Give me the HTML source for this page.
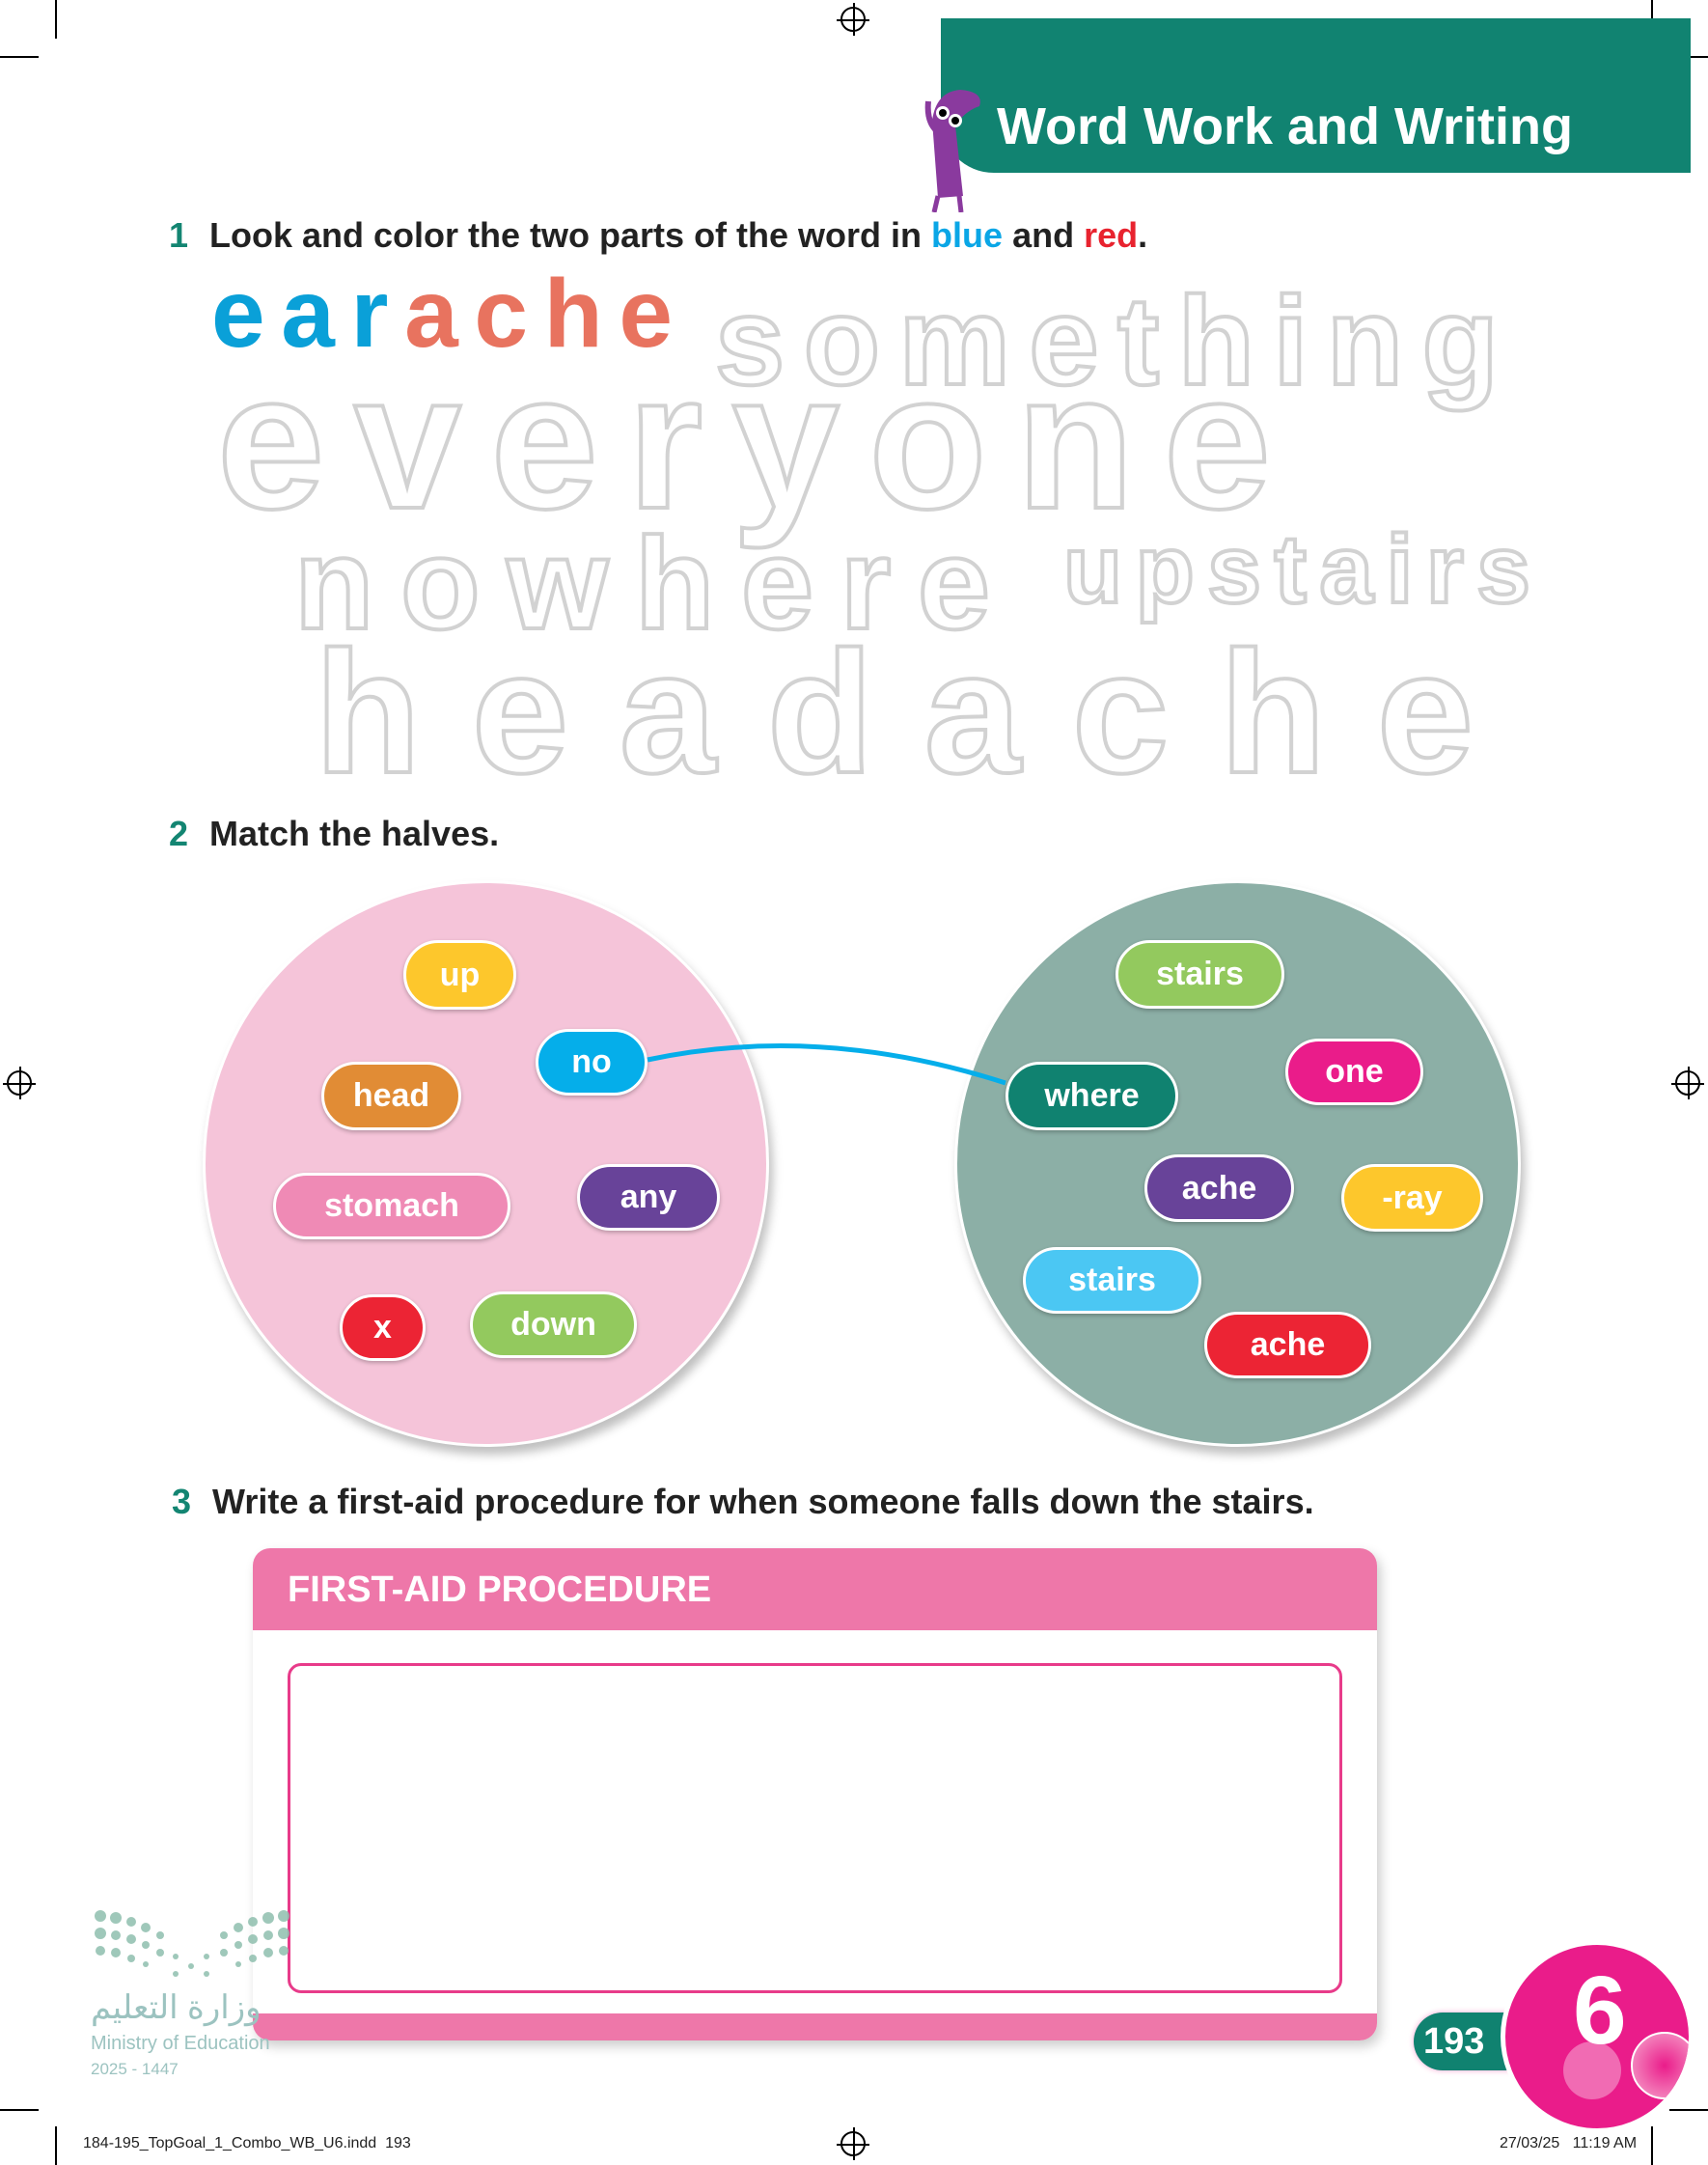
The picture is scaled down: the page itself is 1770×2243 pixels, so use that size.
<!DOCTYPE html>
<html><head><meta charset="utf-8"><style>
*{margin:0;padding:0;box-sizing:border-box}
body{width:1770px;height:2243px;position:relative;background:#fff;font-family:"Liberation Sans",sans-serif;overflow:hidden}
.a{position:absolute}
.w{position:absolute;display:flex;justify-content:space-between;line-height:1;font-weight:bold;color:#fff;-webkit-text-stroke:4px #d2d2d2;white-space:nowrap}
.q{position:absolute;font-size:36px;font-weight:bold;color:#222;white-space:nowrap}
.q b{color:#138572;margin-right:22px}
.p{position:absolute;border:3px solid #fff;border-radius:40px;color:#fff;font-weight:bold;font-size:34px;display:flex;align-items:center;justify-content:center;box-shadow:0 2px 4px rgba(0,0,0,.25)}
.circ{position:absolute;border-radius:50%;border:3px solid #fff;box-shadow:4px 8px 10px rgba(0,0,0,.25)}
.reg{position:absolute;width:26px;height:26px;border:2px solid #000;border-radius:50%}
.reg:before{content:"";position:absolute;left:11px;top:-6px;width:2px;height:34px;background:#000}
.reg:after{content:"";position:absolute;top:11px;left:-6px;height:2px;width:34px;background:#000}
</style></head><body>
<!-- crop marks -->
<div class="a" style="left:57px;top:0;width:2px;height:40px;background:#000"></div>
<div class="a" style="left:0;top:58px;width:40px;height:2px;background:#000"></div>
<div class="a" style="left:1711px;top:0;width:2px;height:40px;background:#000"></div>
<div class="a" style="left:1730px;top:58px;width:40px;height:2px;background:#000"></div>
<div class="a" style="left:57px;top:2203px;width:2px;height:40px;background:#000"></div>
<div class="a" style="left:0;top:2185px;width:40px;height:2px;background:#000"></div>
<div class="a" style="left:1711px;top:2203px;width:2px;height:40px;background:#000"></div>
<div class="a" style="left:1730px;top:2185px;width:40px;height:2px;background:#000"></div>
<div class="reg" style="left:871px;top:7px"></div>
<div class="reg" style="left:7px;top:1109px"></div>
<div class="reg" style="left:1736px;top:1109px"></div>
<div class="reg" style="left:871px;top:2208px"></div>

<!-- header -->
<div class="a" style="left:975px;top:19px;width:777px;height:160px;background:#118371;border-bottom-left-radius:55px"></div>
<div class="a" style="left:1033px;top:100px;font-size:54px;font-weight:bold;color:#fff;white-space:nowrap">Word Work and Writing</div>
<svg class="a" style="left:950px;top:85px" width="80" height="135" viewBox="0 0 80 135">
<path d="M22 120 L16 40 Q20 10 45 8 Q70 10 65 25 Q50 30 40 45 L48 118 Z" fill="#8a3a9e"/>
<path d="M20 50 Q10 40 12 20" stroke="#8a3a9e" stroke-width="6" fill="none"/>
<path d="M22 118 L18 135 M44 118 L46 135" stroke="#8a3a9e" stroke-width="5"/>
<circle cx="27" cy="32" r="7" fill="#fff"/><circle cx="27" cy="32" r="4" fill="#000"/>
<circle cx="40" cy="40" r="7" fill="#fff"/><circle cx="40" cy="40" r="4" fill="#000"/>
</svg>

<!-- Q1 -->
<div class="q" style="left:175px;top:223px"><b>1</b>Look and color the two parts of the word in <span style="color:#0aa6e6">blue</span> and <span style="color:#e8232f">red</span>.</div>

<div class="w" style="left:219px;top:275px;width:478px;font-size:100px;-webkit-text-stroke:0"><span style="color:#0aa0d8">e</span><span style="color:#0aa0d8">a</span><span style="color:#0aa0d8">r</span><span style="color:#e8735f">a</span><span style="color:#e8735f">c</span><span style="color:#e8735f">h</span><span style="color:#e8735f">e</span></div>
<div class="w" style="left:741px;top:288px;width:812px;font-size:130px"><span>s</span><span>o</span><span>m</span><span>e</span><span>t</span><span>h</span><span>i</span><span>n</span><span>g</span></div>
<div class="w" style="left:225px;top:358px;width:1092px;font-size:200px"><span>e</span><span>v</span><span>e</span><span>r</span><span>y</span><span>o</span><span>n</span><span>e</span></div>
<div class="w" style="left:305px;top:537px;width:721px;font-size:135px"><span>n</span><span>o</span><span>w</span><span>h</span><span>e</span><span>r</span><span>e</span></div>
<div class="w" style="left:1102px;top:540px;width:484px;font-size:100px"><span>u</span><span>p</span><span>s</span><span>t</span><span>a</span><span>i</span><span>r</span><span>s</span></div>
<div class="w" style="left:326px;top:649px;width:1201px;font-size:180px"><span>h</span><span>e</span><span>a</span><span>d</span><span>a</span><span>c</span><span>h</span><span>e</span></div>

<!-- Q2 -->
<div class="q" style="left:175px;top:843px"><b>2</b>Match the halves.</div>
<div class="circ" style="left:210px;top:912px;width:587px;height:587px;background:#f5c4d9"></div>
<div class="circ" style="left:989px;top:912px;width:587px;height:587px;background:#8cafa6"></div>

<div class="p" style="left:418px;top:974px;width:117px;height:72px;background:#fdc72c">up</div>
<div class="p" style="left:555px;top:1066px;width:116px;height:69px;background:#05aeea">no</div>
<div class="p" style="left:333px;top:1100px;width:145px;height:71px;background:#e18c35">head</div>
<div class="p" style="left:283px;top:1215px;width:246px;height:69px;background:#ef8ab5">stomach</div>
<div class="p" style="left:598px;top:1206px;width:148px;height:69px;background:#684399">any</div>
<div class="p" style="left:352px;top:1341px;width:89px;height:69px;background:#ec2434">x</div>
<div class="p" style="left:487px;top:1338px;width:173px;height:69px;background:#93c95e">down</div>

<div class="p" style="left:1156px;top:974px;width:175px;height:71px;background:#93c95e">stairs</div>
<div class="p" style="left:1332px;top:1076px;width:143px;height:69px;background:#ea1c8a">one</div>
<div class="p" style="left:1042px;top:1100px;width:179px;height:71px;background:#108270">where</div>
<div class="p" style="left:1186px;top:1196px;width:155px;height:70px;background:#684399">ache</div>
<div class="p" style="left:1390px;top:1206px;width:147px;height:70px;background:#fdc72c">-ray</div>
<div class="p" style="left:1060px;top:1292px;width:185px;height:69px;background:#4bc7f3">stairs</div>
<div class="p" style="left:1248px;top:1359px;width:173px;height:69px;background:#ec2434">ache</div>
<svg class="a" style="left:0;top:0" width="1770" height="1500"><path d="M671 1098 Q850 1060 1042 1122" stroke="#05aeea" stroke-width="5" fill="none"/></svg>

<!-- Q3 -->
<div class="q" style="left:178px;top:1535px"><b>3</b>Write a first-aid procedure for when someone falls down the stairs.</div>
<div class="a" style="left:262px;top:1604px;width:1165px;height:510px;background:#fff;border-radius:18px;box-shadow:4px 6px 12px rgba(0,0,0,.2);overflow:hidden">
 <div class="a" style="left:0;top:0;width:100%;height:85px;background:#ee77a9"></div>
 <div class="a" style="left:36px;top:22px;font-size:38px;font-weight:bold;color:#fff">FIRST-AID PROCEDURE</div>
 <div class="a" style="left:36px;top:119px;width:1093px;height:342px;border:3px solid #e83b8a;border-radius:14px"></div>
 <div class="a" style="left:0;top:482px;width:100%;height:28px;background:#ee77a9"></div>
</div>

<!-- logo -->
<svg class="a" style="left:94px;top:1975px" width="210" height="100">
<g fill="#8fbfae" opacity=".85">
<circle cx="10" cy="10" r="6"/><circle cx="26" cy="12" r="6"/><circle cx="42" cy="16" r="5"/><circle cx="57" cy="22" r="5"/><circle cx="72" cy="30" r="4"/>
<circle cx="10" cy="28" r="6"/><circle cx="26" cy="30" r="5"/><circle cx="42" cy="34" r="5"/><circle cx="57" cy="40" r="4"/><circle cx="72" cy="48" r="4"/><circle cx="88" cy="52" r="3"/>
<circle cx="10" cy="46" r="5"/><circle cx="26" cy="48" r="5"/><circle cx="42" cy="54" r="4"/><circle cx="57" cy="60" r="3"/><circle cx="88" cy="70" r="3"/>
<circle cx="200" cy="10" r="6"/><circle cx="184" cy="12" r="6"/><circle cx="168" cy="16" r="5"/><circle cx="153" cy="22" r="5"/><circle cx="138" cy="30" r="4"/>
<circle cx="200" cy="28" r="6"/><circle cx="184" cy="30" r="5"/><circle cx="168" cy="34" r="5"/><circle cx="153" cy="40" r="4"/><circle cx="138" cy="48" r="4"/><circle cx="120" cy="52" r="3"/>
<circle cx="200" cy="46" r="5"/><circle cx="184" cy="48" r="5"/><circle cx="168" cy="54" r="4"/><circle cx="153" cy="60" r="3"/><circle cx="120" cy="70" r="3"/><circle cx="104" cy="62" r="3"/>
</g></svg>
<div class="a" style="left:94px;top:2060px;font-size:34px;color:#9cc3c0;font-family:'Liberation Sans','Noto Sans CJK SC',sans-serif">وزارة التعليم</div>
<div class="a" style="left:94px;top:2106px;font-size:20px;color:#9cc3c0">Ministry of Education</div>
<div class="a" style="left:94px;top:2134px;font-size:17px;color:#9cc3c0">2025 - 1447</div>

<!-- page number -->
<div class="a" style="left:1465px;top:2085px;width:130px;height:60px;background:#108270;border-radius:30px;color:#fff;font-weight:bold;font-size:38px;line-height:60px;padding-left:10px;box-shadow:0 0 6px rgba(233,30,140,.4)">193</div>
<div class="a" style="left:1555px;top:2010px;width:200px;height:200px;border-radius:50%;background:#ea1c8a;border:5px solid #fff;overflow:hidden">
 <div class="a" style="left:130px;top:90px;width:70px;height:70px;border-radius:50%;background:radial-gradient(#ea1c8a,#f7a9cf);border:2px solid #fff"></div>
 <div class="a" style="left:60px;top:100px;width:60px;height:60px;border-radius:50%;background:rgba(255,255,255,.35)"></div>
 <div class="a" style="left:70px;top:18px;font-size:100px;font-weight:bold;color:#fff;line-height:1">6</div>
</div>

<!-- footer -->
<div class="a" style="left:86px;top:2212px;font-size:16px;color:#222">184-195_TopGoal_1_Combo_WB_U6.indd &nbsp;193</div>
<div class="a" style="left:1554px;top:2212px;font-size:16px;color:#222">27/03/25 &nbsp;&nbsp;11:19 AM</div>
</body></html>
